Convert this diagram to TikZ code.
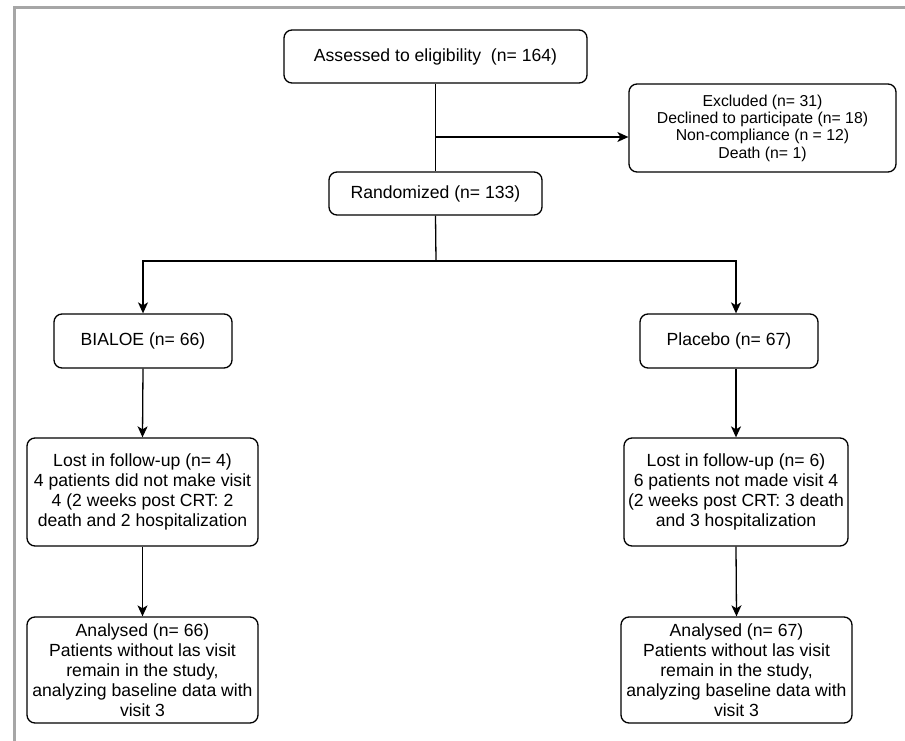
\documentclass[tikz,border=0pt]{standalone}
\usepackage{fontspec}
\setmainfont{Liberation Sans}
\usetikzlibrary{arrows.meta}
\begin{document}
\begin{tikzpicture}[x=1pt,y=-1pt,line width=1.3pt,
    box/.style={draw,rounded corners=8pt,align=center,inner sep=2pt,
      font=\fontsize{17.6}{20}\selectfont},
    small/.style={box,font=\fontsize{15.8}{17.3}\selectfont},
    arr/.style={-{Stealth[length=11pt,width=10pt,inset=3pt]}}]
  \useasboundingbox (0,0) rectangle (905,741);
  %\draw[color=gray!50,dashed] (0,0) grid[step=50] (905,741);
  \draw[gray!70,line width=3pt] (14,741)--(14,8)--(905,8);
  \node[box,minimum width=303,minimum height=53] (assess) at (435.5,56.5)
    {Assessed to eligibility\ \ (n= 164)};
  \node[small,minimum width=267,minimum height=88] (excl) at (762.5,128)
    {Excluded (n= 31)\\Declined to participate (n= 18)\\Non-compliance (n = 12)\\Death (n= 1)};
  \node[box,minimum width=213,minimum height=43] (rand) at (435.5,193.5)
    {Randomized (n= 133)};
  \node[box,minimum width=178,minimum height=54] (bial) at (143,341)
    {BIALOE (n= 66)};
  \node[box,minimum width=178,minimum height=54] (plac) at (729,341)
    {Placebo (n= 67)};
  \node[box,minimum width=231,minimum height=108] (lostL) at (142.5,492)
    {Lost in follow-up (n= 4)\\4 patients did not make visit\\4 (2 weeks post CRT: 2\\death and 2 hospitalization};
  \node[box,minimum width=224,minimum height=108] (lostR) at (736,492)
    {Lost in follow-up (n= 6)\\6 patients not made visit 4\\(2 weeks post CRT: 3 death\\and 3 hospitalization};
  \node[box,minimum width=231,minimum height=106] (anaL) at (142.5,670)
    {Analysed (n= 66)\\Patients without las visit\\remain in the study,\\analyzing baseline data with\\visit 3};
  \node[box,minimum width=231,minimum height=106] (anaR) at (736.5,670)
    {Analysed (n= 67)\\Patients without las visit\\remain in the study,\\analyzing baseline data with\\visit 3};
  \coordinate (split) at (436,137);
  \coordinate (fork) at (436,261);
  \draw (assess.south) -- (rand.north);
  \draw[arr] (split) -- (excl.west |- split);
  \draw (rand.south) -- (fork);
  \draw[arr] (fork) -| (bial.north);
  \draw[arr] (fork) -| (plac.north -| lostR.north);
  \draw[arr] (bial.south) -- (lostL.north);
  \draw[arr] (plac.south -| lostR.north) -- (lostR.north);
  \draw[arr] (lostL.south) -- (anaL.north);
  \draw[arr] (lostR.south) -- (anaR.north);
\end{tikzpicture}
\end{document}
